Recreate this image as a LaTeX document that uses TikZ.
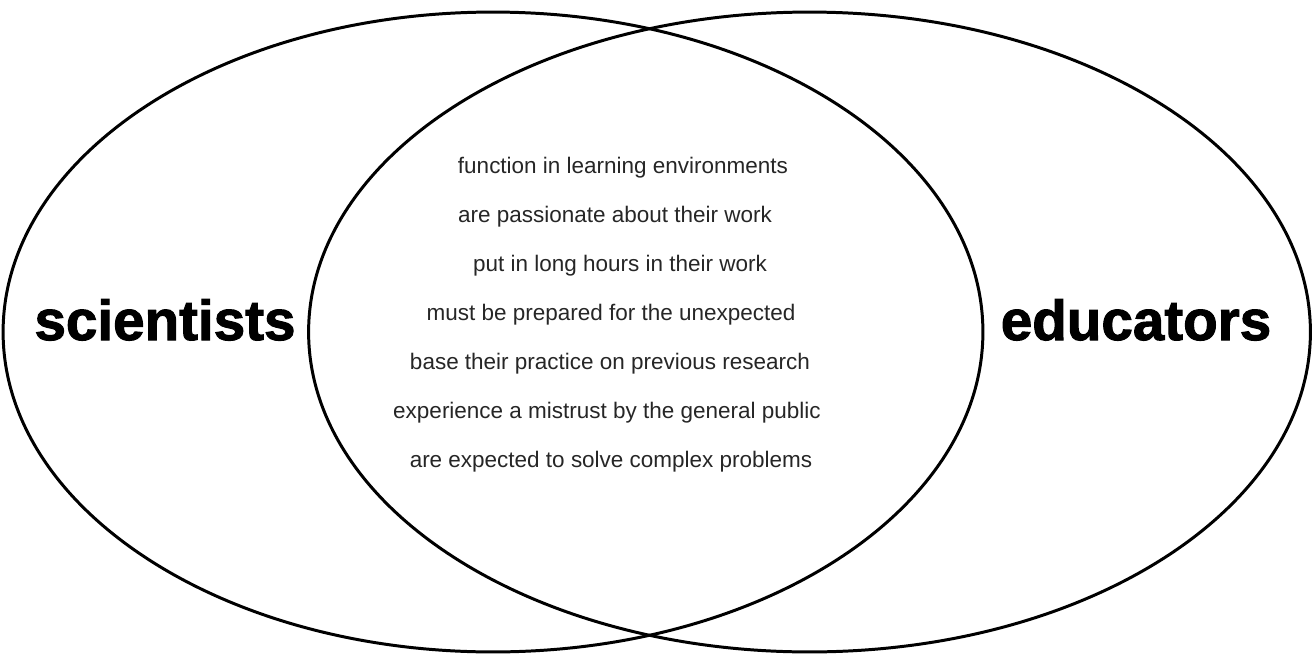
\documentclass[tikz,border=0pt]{standalone}
\usepackage{fontspec}
\setsansfont{Liberation Sans}
\newfontfamily\groupfont{Liberation Sans Bold}[FakeBold=1.8]
\usetikzlibrary{shapes.geometric, positioning}
\tikzset{venn/.style={ellipse,draw=black,line width=1.7pt,inner sep=0pt,minimum height=12.8cm},
  group/.style={font=\groupfont\fontsize{32.2}{32}\selectfont,anchor=base},
  trait/.style={font=\sffamily\fontsize{12.8}{14}\selectfont,text=black!85,anchor=base}}

\begin{document}
\begin{tikzpicture}[x=0.02cm,y=0.02cm]
      \useasboundingbox (0,0) rectangle (1314,654);
      \node[venn,minimum width=19.6cm] (sci) at (493,322) {};
      \node[venn,minimum width=20.04cm] (edu) at (809.5,322) {};

      \node[group] (scilabel) at (165,314) {scientists};
      \node[group] (edulabel) at (1136,314) {educators};

      \foreach \x/\t [count=\i] in {623/function in learning environments,
          615/are passionate about their work,
          620/put in long hours in their work,
          611/must be prepared for the unexpected,
          610/base their practice on previous research,
          607/experience a mistrust by the general public,
          611/are expected to solve complex problems}
        \node[trait] (trait\i) at (\x,{481-49*(\i-1)}) {\t};
  \end{tikzpicture}
\end{document}
